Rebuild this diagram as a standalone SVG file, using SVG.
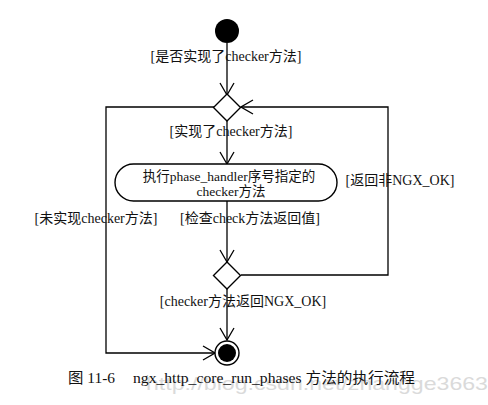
<svg xmlns="http://www.w3.org/2000/svg" width="488" height="405" viewBox="0 0 488 405">
<defs>
<marker id="arr" markerUnits="userSpaceOnUse" markerWidth="14" markerHeight="18" refX="13" refY="8" orient="auto" viewBox="0 0 14 16">
<path d="M1,1 L13,8 L1,15" fill="none" stroke="#000" stroke-width="1.3"/>
</marker>
</defs>
<style>
.t{font-family:"Liberation Serif","Noto Sans CJK SC",serif;font-size:14px;fill:#111;}
.b{font-family:"Liberation Serif","Noto Sans CJK SC",serif;font-size:13.5px;fill:#111;}
.c{font-family:"Liberation Serif","Noto Sans CJK SC",serif;font-size:15px;fill:#111;}
.w{font-family:"Liberation Sans",sans-serif;font-size:19px;fill:#dadada;}
.ln{fill:none;stroke:#000;stroke-width:1.3;}
.sh{fill:#fff;stroke:#000;stroke-width:1.4;}
</style>
<rect width="488" height="405" fill="#fff"/>
<g id="connectors">
<path class="ln" d="M227,43 L227,95" marker-end="url(#arr)"/>
<path class="ln" d="M227,121 L227,164" marker-end="url(#arr)"/>
<path class="ln" d="M227,201 L227,262" marker-end="url(#arr)"/>
<path class="ln" d="M227,288 L227,340" marker-end="url(#arr)"/>
<path class="ln" d="M241,275 L388,275 L388,107 L241,107" marker-end="url(#arr)"/>
<path class="ln" d="M214,107 L106,107 L106,353 L215,353" marker-end="url(#arr)"/>
</g>
<g id="start"><circle cx="227" cy="31" r="12" fill="#000"/></g>
<g id="decision1"><path class="sh" d="M227,94 L240.5,107.5 L227,121 L213.5,107.5 Z"/></g>
<g id="action"><rect class="sh" x="115" y="164" width="222" height="37" rx="18.5"/>
<text class="b" x="229" y="181" text-anchor="middle">执行phase_handler序号指定的</text>
<text class="b" x="231" y="195.5" text-anchor="middle">checker方法</text></g>
<g id="decision2"><path class="sh" d="M227,262 L240.5,275.5 L227,289 L213.5,275.5 Z"/></g>
<g id="end"><circle cx="227" cy="353" r="12" fill="#fff" stroke="#000" stroke-width="1.4"/><circle cx="227" cy="353" r="9" fill="#000"/></g>
<g id="labels">
<text class="t" x="226" y="61" text-anchor="middle">[是否实现了checker方法]</text>
<text class="t" x="231" y="136" text-anchor="middle">[实现了checker方法]</text>
<text class="t" x="400" y="185" text-anchor="middle">[返回非NGX_OK]</text>
<text class="t" x="96" y="223" text-anchor="middle">[未实现checker方法]</text>
<text class="t" x="250" y="223" text-anchor="middle">[检查check方法返回值]</text>
<text class="t" x="243" y="306" text-anchor="middle">[checker方法返回NGX_OK]</text>
</g>
<g id="caption">
<text class="w" x="146" y="390" textLength="342" lengthAdjust="spacingAndGlyphs">http://blog.csdn.net/zhangge3663</text>
<text class="c" x="68" y="383" textLength="47" lengthAdjust="spacingAndGlyphs">图 11-6</text>
<text class="c" x="133" y="383" textLength="282" lengthAdjust="spacingAndGlyphs">ngx_http_core_run_phases 方法的执行流程</text>
</g>
</svg>
